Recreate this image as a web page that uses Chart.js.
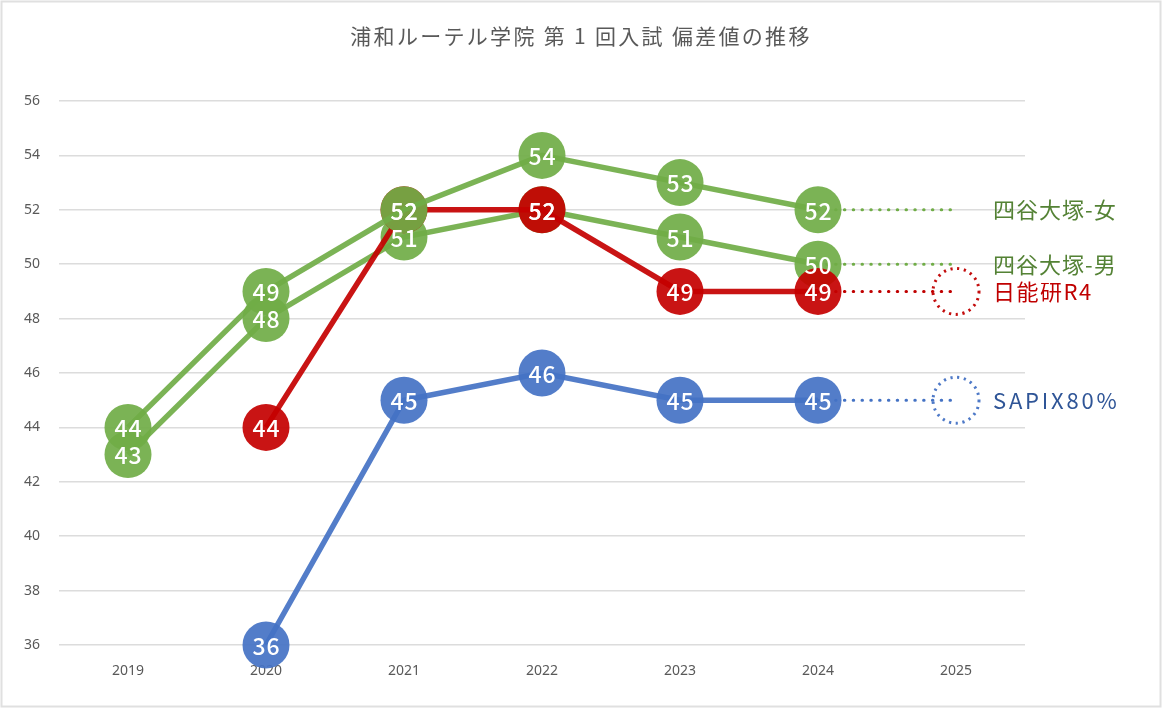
<!DOCTYPE html>
<html>
<head>
<meta charset="utf-8">
<script src="https://cdn.jsdelivr.net/npm/chart.js@4.4.1/dist/chart.umd.min.js"></script>
<style>
html,body{margin:0;padding:0;background:#fff;}
#wrap{position:relative;width:1162px;height:708px;}
</style>
</head>
<body>
<div id="wrap"><canvas id="c" width="1162" height="708"></canvas></div>
<script>
const titleText = '浦和ルーテル学院 第 1 回入試 偏差値の推移';
const years = ['2019','2020','2021','2022','2023','2024','2025'];
const yotsuyaF = [44, 49, 52, 54, 53, 52, null];
const yotsuyaM = [43, 48, 51, 52, 51, 50, null];
const nichinoken = [null, 44, 52, 52, 49, 49, null];
const sapix = [null, 36, 45, 46, 45, 45, null];
const extF = [null, null, null, null, null, 52, 52];
const extM = [null, null, null, null, null, 50, 50];
const extN = [null, null, null, null, null, 49, 49];
const extS = [null, null, null, null, null, 45, 45];
const seriesNames = ['四谷大塚-女', '四谷大塚-男', '日能研R4', 'SAPIX80%'];
const yTicks = [36, 38, 40, 42, 44, 46, 48, 50, 52, 54, 56];

const GREEN = 'rgba(112,173,71,0.92)';
const RED = 'rgba(196,0,0,0.92)';
const BLUE = 'rgba(68,114,196,0.92)';

function mainDs(label, data, col, order) {
  return {
    label, data, order,
    borderColor: col, backgroundColor: col,
    borderWidth: 5.5, pointRadius: 23.5, pointHoverRadius: 23.5,
    pointBorderWidth: 0, pointBackgroundColor: col,
    spanGaps: false, clip: false, tension: 0, valueLabels: true
  };
}
function extDs(data, col) {
  return {
    label: '', data, order: 10,
    borderColor: col, borderWidth: 3, borderDash: [0.5, 8.3], borderCapStyle: 'round',
    pointRadius: 0, pointHoverRadius: 0, clip: false, tension: 0, valueLabels: false
  };
}

const extras = [
  {data: extF, color: '#548235', name: seriesNames[0], circle: false, circleColor: '', spacing: '1px'},
  {data: extM, color: '#548235', name: seriesNames[1], circle: false, circleColor: '', spacing: '1px'},
  {data: extN, color: '#C00000', name: seriesNames[2], circle: true, circleColor: 'rgba(192,0,0,0.95)', spacing: '1.5px'},
  {data: extS, color: '#2F5597', name: seriesNames[3], circle: true, circleColor: 'rgba(68,114,196,0.95)', spacing: '2.8px'}
];

const overlay = {
  id: 'overlay',
  beforeDraw(chart) {
    const ctx = chart.ctx;
    ctx.save();
    ctx.fillStyle = '#fff';
    ctx.fillRect(0, 0, chart.width, chart.height);
    ctx.strokeStyle = '#e0e0e0';
    ctx.lineWidth = 2;
    ctx.strokeRect(1.5, 1.5, chart.width - 3, chart.height - 3);
    ctx.fillStyle = '#595959';
    ctx.font = '21px "Noto Sans CJK JP"';
    ctx.letterSpacing = '2.3px';
    ctx.textAlign = 'center';
    ctx.textBaseline = 'middle';
    ctx.fillText(titleText, 581, 36);
    ctx.restore();
  },
  afterDatasetsDraw(chart) {
    const ctx = chart.ctx;
    const xs = chart.scales.x, ys = chart.scales.y;
    ctx.save();
    extras.forEach(e => {
      const i = e.data.length - 1;
      const v = e.data[i];
      const x = xs.getPixelForValue(i), y = ys.getPixelForValue(v);
      if (e.circle) {
        ctx.beginPath();
        ctx.setLineDash([2.2, 4.6]);
        ctx.lineCap = 'butt';
        ctx.lineWidth = 3;
        ctx.strokeStyle = e.circleColor;
        ctx.arc(x, y, 23, 0, Math.PI * 2);
        ctx.stroke();
      }
      ctx.setLineDash([]);
      ctx.fillStyle = e.color;
      ctx.font = '22px "Noto Sans CJK JP"';
      ctx.letterSpacing = e.spacing;
      ctx.textAlign = 'left';
      ctx.textBaseline = 'middle';
      ctx.fillText(e.name, x + 37, y);
    });
    ctx.fillStyle = '#ffffff';
    ctx.font = '500 23px "Noto Sans CJK JP"';
    ctx.letterSpacing = '0.8px';
    ctx.textAlign = 'center';
    ctx.textBaseline = 'middle';
    chart.data.datasets.forEach((ds, di) => {
      if (!ds.valueLabels) return;
      const meta = chart.getDatasetMeta(di);
      meta.data.forEach((pt, i) => {
        const v = ds.data[i];
        if (v === null || v === undefined) return;
        ctx.fillText(String(v), pt.x + 0.4, pt.y + 1);
      });
    });
    ctx.restore();
  }
};

new Chart(document.getElementById('c'), {
  type: 'line',
  data: {
    labels: years,
    datasets: [
      mainDs(seriesNames[0], yotsuyaF, GREEN, 1),
      mainDs(seriesNames[2], nichinoken, RED, 2),
      mainDs(seriesNames[1], yotsuyaM, GREEN, 3),
      mainDs(seriesNames[3], sapix, BLUE, 4),
      extDs(extF, 'rgba(112,173,71,1)'),
      extDs(extM, 'rgba(112,173,71,1)'),
      extDs(extN, 'rgba(192,0,0,1)'),
      extDs(extS, 'rgba(68,114,196,1)')
    ]
  },
  options: {
    responsive: false,
    animation: false,
    devicePixelRatio: 1,
    layout: {padding: {left: 0, right: 137, top: 101, bottom: 23}},
    plugins: {legend: {display: false}, title: {display: false}, tooltip: {enabled: false}},
    events: [],
    scales: {
      x: {
        type: 'category',
        offset: true,
        grid: {display: false, drawTicks: false},
        border: {display: false},
        ticks: {color: '#595959', font: {size: 14, family: '"Noto Sans", sans-serif'}, padding: 18, maxRotation: 0},
        afterFit(s) { s.height = 40; }
      },
      y: {
        min: 36, max: 56,
        afterBuildTicks(s) { s.ticks = yTicks.map(v => ({value: v})); },
        grid: {color: '#dcdcdc', lineWidth: 1.5, drawTicks: false},
        border: {display: false},
        ticks: {color: '#595959', font: {size: 14, family: '"Noto Sans", sans-serif'}, padding: 19},
        afterFit(s) { s.width = 59; }
      }
    }
  },
  plugins: [overlay]
});
</script>
</body>
</html>
